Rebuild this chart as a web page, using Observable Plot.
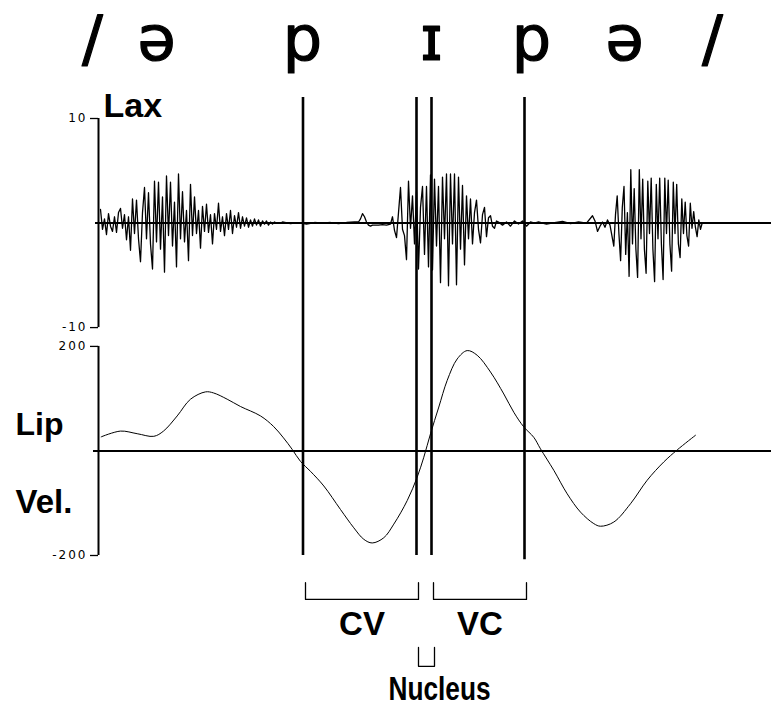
<!DOCTYPE html>
<html>
<head>
<meta charset="utf-8">
<script src="https://cdn.jsdelivr.net/npm/d3@7"></script>
<script src="https://cdn.jsdelivr.net/npm/@observablehq/plot@0.6"></script>
<style>
  html, body { margin: 0; padding: 0; background: #fff; }
</style>
</head>
<body>
<div id="chart"></div>
<script>
// ---------- DATA (time in ms from the start of the record) ----------
// IPA transcription above the panels
const ipaSymbols = ["/", "ə", "p", "ɪ", "p", "ə", "/"];
const ipaTimes   = [-6, 58, 204, 333, 433, 526, 614];

// Segment boundaries (vertical lines)
const boundaryTimes = [204.5, 318, 333, 426];

// Intervals marked under the panels
const intervalNames  = ["CV", "VC", "Nucleus"];
const intervalStarts = [207, 335, 320];
const intervalEnds   = [320, 428, 336];

// Axis ticks
const laxTicks = [10, -10];
const velTicks = [200, -200];

// Laryngeal (acoustic) signal, sampled segments: start time, sample step, values
const laxBurst1 = [
  1.3,-0.6,0.4,-1.1,0.9,-0.3,-0.8,0.6,-0.9,1.0,
  1.4,-0.5,0.8,-1.6,0.6,-2.6,2.3,-1.0,2.2,-1.5,
  -3.7,1.0,3.4,-1.5,2.9,-2.0,-4.4,4.0,-1.8,3.9,
  -2.5,2.5,-4.7,4.5,-1.2,3.9,-2.2,2.0,-4.2,4.7,
  -1.5,3.0,-1.8,1.2,-3.6,3.7,-1.2,2.5,-1.0,1.2,
  -2.4,1.6,-0.8,1.8,-0.9,0.8,-2.0,0.9,-0.6,1.9,
  -0.8,0.6,-1.2,0.9,-0.6,1.2,-1.0,0.7,-0.4,1.0,
  -0.5,0.6,-0.3,0.5,-0.4,0.3,-0.3,0.4,-0.2,0.3,
  -0.3,0.2,-0.1,0.2,-0.2,0.1,-0.1,0.1,0,0,0
];
const laxQuiet1 = [0.1,-0.05,0.05,-0.1,0.05,0,0.05,-0.05,0.05,0.1];
const laxBlip1  = [0.1,0.4,0.9,0.6,0.1,-0.2,-0.3,-0.2,-0.2];
const laxQuiet2 = [-0.2,-0.15,-0.2,-0.1];
const laxBurst2 = [
  0.6,-0.7,-1.4,1.0,3.4,-0.6,-1.2,-3.5,4.0,-0.5,
  2.6,-2.0,3.0,-4.4,1.5,3.5,-3.0,3.5,-4.2,4.6,
  -4.5,4.2,-2.2,3.5,-5.7,4.4,-1.5,4.7,-6.0,4.7,
  -2.0,4.7,-5.9,4.4,-2.5,3.6,-4.0,2.6,-1.5,2.3,
  -2.0,1.0,2.2,-0.6,-1.9,0.8,1.5,-1.3,0.5,0.7,
  -0.3,-0.5,0.2
];
const laxTail2  = [0.1,-0.2,0.1,-0.3,0.2,-0.1,0.2,-0.3,0.1,0];
const laxQuiet3 = [0.1,-0.1,0.05,0.15,-0.05,0.1,0];
const laxBlip3  = [0.7,0.2,-0.8,-0.3,0.1,-0.4,0.3,-0.2];
const laxBurst3 = [
  -2.2,0.8,2.6,-1.0,-3.6,1.5,3.5,-3.0,1.0,-5.1,
  5.1,-2.0,3.3,-2.5,-5.2,5.1,-1.5,4.2,-2.5,-4.8,
  4.0,-1.0,4.3,-2.5,-5.6,3.7,-1.5,4.3,-2.0,-5.4,
  4.3,-1.0,4.1,-2.0,-4.6,3.9,-1.0,3.7,-2.0,-3.3,
  2.3,-1.0,2.0,-1.2,-2.2,1.9,-0.5,1.1,-0.4,-1.3,
  0.3,-0.6,0
];
const laxSegments = [
  {start: 2,     step: 2,   values: laxBurst1},
  {start: 184,   step: 8,   values: laxQuiet1},
  {start: 260,   step: 2,   values: laxBlip1},
  {start: 280,   step: 4,   values: laxQuiet2},
  {start: 294,   step: 2,   values: laxBurst2},
  {start: 400,   step: 4,   values: laxTail2},
  {start: 440,   step: 8,   values: laxQuiet3},
  {start: 494,   step: 2.5, values: laxBlip3},
  {start: 515.3, step: 1.7, values: laxBurst3}
];

// Lip velocity
const velTimes  = [2.7, 22, 38.7, 55.3, 65, 78.7, 92, 107, 115, 128.7, 142, 162, 175, 185, 193.7,
                   202, 212, 225.3, 242, 255.3, 265.3, 273.7, 285.3, 295.3, 308.7, 318.7, 325.3,
                   332, 340.3, 348.7, 358.7, 368.7, 378.7, 392, 405.3, 415.3, 425.3, 435.3, 442,
                   455.3, 468.7, 482, 495.3, 502, 515.3, 532, 548.7, 565.3, 578.7, 597];
const velValues = [27, 38, 33, 28, 38, 67, 99, 113, 111, 99, 85, 67, 47, 25, 3,
                   -20, -39, -67, -112, -147, -169, -176, -166, -140, -95, -50, -12,
                   33, 84, 135, 176, 192, 183, 151, 109, 74, 46, 26, 4,
                   -37, -82, -117, -139, -144, -136, -101, -56, -21, 2, 30];

// ---------- LAYOUT (shared vertical scale: lip velocity units; the Lax panel is stacked above) ----------
const laxZero = 436, laxGain = 20;           // Lax value a -> laxZero + a*laxGain
const ipaRow = 747, laxLabelRow = 638, lipRow = 30, velRow = -118;
const lineTop = 676;
const bracketTop = -252, bracketBottom = -284, bracketLabelRow = -353;
const nucTop = -376, nucBottom = -412, nucLabelRow = -477;

const lax = laxSegments.flatMap(s => s.values.map((v, i) => ({t: s.start + i * s.step, v})));
const vel = velTimes.map((t, i) => ({t, v: velValues[i]}));

const tickValues = [...laxTicks.map(a => laxZero + a * laxGain), ...velTicks];
const tickLabels = new Map(tickValues.map((y, i) => [y, String([...laxTicks, ...velTicks][i])]));

const bracketPts = intervalNames.flatMap((name, i) => {
  const top = name === "Nucleus" ? nucTop : bracketTop;
  const bot = name === "Nucleus" ? nucBottom : bracketBottom;
  return [
    {name, t: intervalStarts[i], y: top},
    {name, t: intervalStarts[i], y: bot},
    {name, t: intervalEnds[i],   y: bot},
    {name, t: intervalEnds[i],   y: top}
  ];
});
const intervalLabels = intervalNames.filter(n => n !== "Nucleus").map(name => {
  const i = intervalNames.indexOf(name);
  return {name, t: (intervalStarts[i] + intervalEnds[i]) / 2, y: bracketLabelRow};
});

const bold = "Liberation Sans, Arial, Helvetica, sans-serif";

const chart = Plot.plot({
  width: 771,
  height: 707,
  marginLeft: 98,
  marginRight: 0,
  marginTop: 118,
  marginBottom: 152,
  x: {domain: [0, 673], axis: null},
  y: {domain: [-200, 636], axis: null},
  style: {background: "white", color: "black", overflow: "visible"},
  marks: [
    // zero lines
    Plot.ruleY([laxZero], {x1: -3, x2: 673, stroke: "black", strokeWidth: 2}),
    Plot.ruleY([0], {x1: -5, x2: 673, stroke: "black", strokeWidth: 2}),
    // panel axis lines
    Plot.ruleX([0], {y1: laxZero - 10 * laxGain, y2: laxZero + 10 * laxGain, stroke: "black", strokeWidth: 2}),
    Plot.ruleX([0], {y1: -200, y2: 200, stroke: "black", strokeWidth: 2}),
    Plot.axisY(tickValues, {
      anchor: "left", label: null, tickSize: 8, tickPadding: 3,
      tickFormat: d => tickLabels.get(d), fontSize: 12, fontFamily: "DejaVu Sans, sans-serif",
      stroke: "black", strokeWidth: 1.3
    }),
    // acoustic signal
    Plot.line(lax, {x: "t", y: d => laxZero + d.v * laxGain, stroke: "black", strokeWidth: 1.3}),
    // lip velocity
    Plot.line(vel, {x: "t", y: "v", curve: "catmull-rom", stroke: "black", strokeWidth: 1}),
    // segment boundaries
    Plot.ruleX(boundaryTimes, {y1: lineTop, y2: (d, i) => (i === 3 ? -208 : -200), stroke: "black", strokeWidth: 2.6}),
    // interval brackets
    Plot.line(bracketPts, {x: "t", y: "y", z: "name", stroke: "black", strokeWidth: 1.3}),
    Plot.text(intervalLabels, {x: "t", y: "y", text: "name", fontSize: 33, fontWeight: "bold",
      fontFamily: bold, lineAnchor: "bottom", textAnchor: "middle"}),
    Plot.text(["Nucleus"], {x: intervalStarts[2] - 30, y: nucLabelRow, text: d => d, fontSize: 34,
      fontWeight: "bold", fontFamily: bold, lineAnchor: "bottom", textAnchor: "start"}),
    // IPA transcription
    Plot.text(ipaSymbols, {x: (d, i) => ipaTimes[i], y: ipaRow, text: d => d, fontSize: 62,
      fontFamily: "DejaVu Sans, sans-serif", lineAnchor: "bottom", textAnchor: "middle",
      fill: "black", stroke: "black", strokeWidth: 1.2, strokeLinejoin: "round"}),
    // panel labels
    Plot.text(["Lax"], {x: 5, y: laxLabelRow, text: d => d, fontSize: 34, fontWeight: "bold",
      fontFamily: bold, lineAnchor: "bottom", textAnchor: "start"}),
    Plot.text(["Lip"], {x: -83, y: lipRow, text: d => d, fontSize: 32, fontWeight: "bold",
      fontFamily: bold, lineAnchor: "bottom", textAnchor: "start"}),
    Plot.text(["Vel."], {x: -83, y: velRow, text: d => d, fontSize: 33, fontWeight: "bold",
      fontFamily: bold, lineAnchor: "bottom", textAnchor: "start"})
  ]
});

document.getElementById("chart").appendChild(chart);

// typographic touches
d3.select(chart).selectAll('g[aria-label="y-axis tick label"] text').style("letter-spacing", "2px");
d3.select(chart).selectAll("text").filter(function () { return this.textContent === "Nucleus"; })
  .attr("textLength", 102).attr("lengthAdjust", "spacingAndGlyphs");
</script>
</body>
</html>
